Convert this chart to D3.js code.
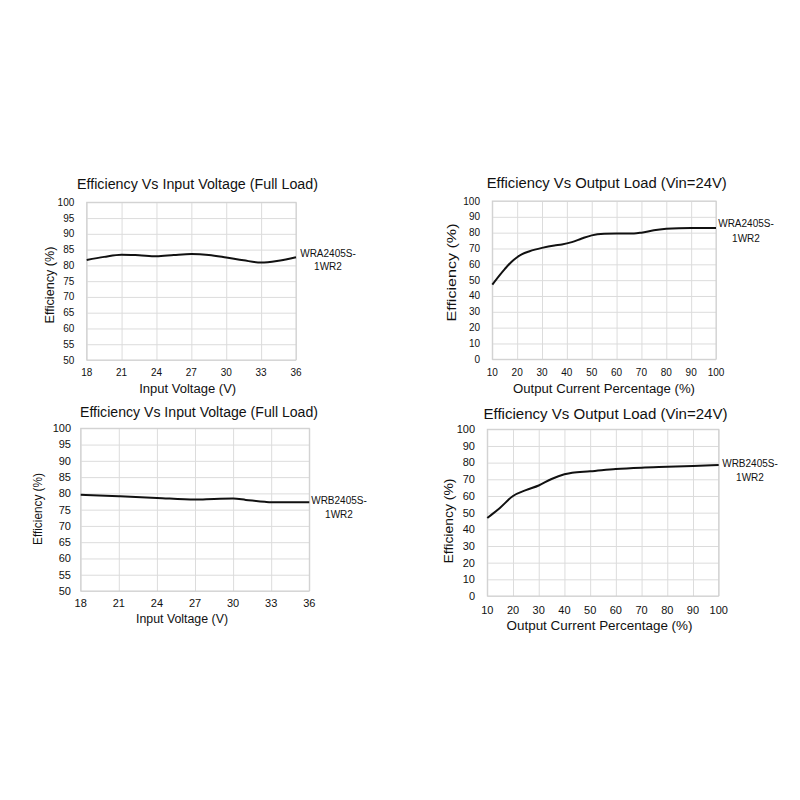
<!DOCTYPE html>
<html>
<head>
<meta charset="utf-8">
<script src="https://cdn.jsdelivr.net/npm/d3@7"></script>
<style>
  html, body { margin: 0; padding: 0; background: #fff; }
  svg { display: block; }
  text { font-family: "Liberation Sans", Arial, sans-serif; fill: #111; }
</style>
</head>
<body>
<svg id="chart" width="800" height="800"></svg>
<script>
// ---------- DATA ----------
const titles = [
  "Efficiency Vs Input Voltage (Full Load)",
  "Efficiency Vs Output Load (Vin=24V)",
  "Efficiency Vs Input Voltage (Full Load)",
  "Efficiency Vs Output Load (Vin=24V)"
];
const xLabels = ["Input Voltage (V)", "Output Current Percentage (%)", "Input Voltage (V)", "Output Current Percentage (%)"];
const yLabel = "Efficiency (%)";
const seriesNames = [["WRA2405S-", "1WR2"], ["WRA2405S-", "1WR2"], ["WRB2405S-", "1WR2"], ["WRB2405S-", "1WR2"]];

const voltageTicks = [18, 21, 24, 27, 30, 33, 36];
const voltageEffTicks = [50, 55, 60, 65, 70, 75, 80, 85, 90, 95, 100];
const loadTicks = [10, 20, 30, 40, 50, 60, 70, 80, 90, 100];
const loadEffTicks = [0, 10, 20, 30, 40, 50, 60, 70, 80, 90, 100];

// Chart 1: WRA2405S-1WR2, efficiency vs input voltage
const wraVoltage = [18, 19.5, 21, 22.5, 24, 25.5, 27, 28.5, 30, 31.5, 33, 34.5, 36];
const wraVoltageEff = [81.7, 82.7, 83.4, 83.2, 82.9, 83.3, 83.6, 83.3, 82.5, 81.6, 80.9, 81.5, 82.6];

// Chart 2: WRA2405S-1WR2, efficiency vs output load
const wraLoad = [10, 15, 18, 20, 22, 25, 30, 35, 38, 42, 46, 50, 55, 60, 67, 70, 75, 80, 85, 90, 100];
const wraLoadEff = [47.2, 57, 62, 64.5, 66.5, 68.3, 70.4, 71.9, 72.5, 74, 76.3, 78.3, 79.3, 79.5, 79.5, 80, 81.5, 82.4, 82.8, 82.9, 82.9];

// Chart 3: WRB2405S-1WR2, efficiency vs input voltage
const wrbVoltage = [18, 21, 24, 27, 28.5, 30, 31, 32.5, 33, 36];
const wrbVoltageEff = [79.6, 79.1, 78.6, 78.1, 78.3, 78.4, 78.0, 77.4, 77.3, 77.3];

// Chart 4: WRB2405S-1WR2, efficiency vs output load
const wrbLoad = [10, 15, 20, 25, 30, 35, 40, 43, 50, 60, 70, 80, 90, 100];
const wrbLoadEff = [46.8, 53, 60, 63.5, 66.3, 70.2, 73, 74, 74.8, 76.2, 77, 77.5, 78, 78.6];

// ---------- LAYOUT ----------
const layouts = [
  { l: 86.7, r: 296, t: 202.3, b: 360, xDom: [18, 36], yDom: [50, 100], xt: voltageTicks, yt: voltageEffTicks,
    xs: wraVoltage, ys: wraVoltageEff, fs: 10,
    title: { x: 197.5, y: 189, w: 241 }, xl: { x: 187.7, y: 393, w: 97 }, yl: { x: 54, y: 285, w: 77 },
    yTickX: 74.3, xTickY: 376, ser: { x: 328, y1: 257, y2: 270 } },
  { l: 492.3, r: 716, t: 201, b: 359.3, xDom: [10, 100], yDom: [0, 100], xt: loadTicks, yt: loadEffTicks,
    xs: wraLoad, ys: wraLoadEff, fs: 10,
    title: { x: 606.7, y: 187.5, w: 240 }, xl: { x: 604, y: 392.5, w: 182 }, yl: { x: 456, y: 272.5, w: 98 },
    yTickX: 480, xTickY: 375.5, ser: { x: 746, y1: 227, y2: 242 } },
  { l: 80.7, r: 309.3, t: 428.3, b: 591, xDom: [18, 36], yDom: [50, 100], xt: voltageTicks, yt: voltageEffTicks,
    xs: wrbVoltage, ys: wrbVoltageEff, fs: 11,
    title: { x: 199, y: 416.5, w: 238 }, xl: { x: 182, y: 622.5, w: 92 }, yl: { x: 42, y: 509, w: 72 },
    yTickX: 71, xTickY: 607, ser: { x: 339, y1: 504, y2: 518 } },
  { l: 487.3, r: 718.7, t: 429.3, b: 596, xDom: [10, 100], yDom: [0, 100], xt: loadTicks, yt: loadEffTicks,
    xs: wrbLoad, ys: wrbLoadEff, fs: 11,
    title: { x: 605.5, y: 419, w: 244 }, xl: { x: 599.5, y: 630, w: 186 }, yl: { x: 453, y: 521, w: 85 },
    yTickX: 475, xTickY: 613.5, ser: { x: 750, y1: 467, y2: 481 } }
];

const svg = d3.select("#chart");

layouts.forEach((c, i) => {
  const g = svg.append("g");
  const x = d3.scaleLinear().domain(c.xDom).range([c.l, c.r]);
  const y = d3.scaleLinear().domain(c.yDom).range([c.b, c.t]);

  // grid lines via axes
  g.append("g")
    .attr("transform", `translate(0,${c.b})`)
    .call(d3.axisBottom(x).tickValues(c.xt).tickSize(-(c.b - c.t)).tickFormat(""))
    .call(a => a.select(".domain").remove())
    .call(a => a.selectAll("line").attr("stroke", "#dcdcdc").attr("stroke-width", 1));
  g.append("g")
    .attr("transform", `translate(${c.l},0)`)
    .call(d3.axisLeft(y).tickValues(c.yt).tickSize(-(c.r - c.l)).tickFormat(""))
    .call(a => a.select(".domain").remove())
    .call(a => a.selectAll("line").attr("stroke", "#dcdcdc").attr("stroke-width", 1));

  // frame
  g.append("rect")
    .attr("x", c.l).attr("y", c.t)
    .attr("width", c.r - c.l).attr("height", c.b - c.t)
    .attr("fill", "none").attr("stroke", "#cfcfcf").attr("stroke-width", 1);

  // tick labels
  g.append("g").selectAll("text").data(c.yt).join("text")
    .attr("x", c.yTickX).attr("y", d => y(d)).attr("dy", "0.35em")
    .attr("text-anchor", "end").attr("font-size", c.fs).text(d => d);
  g.append("g").selectAll("text").data(c.xt).join("text")
    .attr("x", d => x(d)).attr("y", c.xTickY)
    .attr("text-anchor", "middle").attr("font-size", c.fs).text(d => d);

  // line
  const pts = c.xs.map((v, k) => [v, c.ys[k]]);
  g.append("path")
    .datum(pts)
    .attr("fill", "none").attr("stroke", "#111").attr("stroke-width", 2)
    .attr("stroke-linejoin", "round")
    .attr("d", d3.line().x(d => x(d[0])).y(d => y(d[1])).curve(d3.curveMonotoneX));

  // title
  g.append("text")
    .attr("x", c.title.x).attr("y", c.title.y)
    .attr("text-anchor", "middle").attr("font-size", 14)
    .attr("textLength", c.title.w).attr("lengthAdjust", "spacingAndGlyphs")
    .text(titles[i]);

  // x axis label
  g.append("text")
    .attr("x", c.xl.x).attr("y", c.xl.y)
    .attr("text-anchor", "middle").attr("font-size", 12)
    .attr("textLength", c.xl.w).attr("lengthAdjust", "spacingAndGlyphs")
    .text(xLabels[i]);

  // y axis label
  g.append("text")
    .attr("transform", `translate(${c.yl.x},${c.yl.y}) rotate(-90)`)
    .attr("text-anchor", "middle").attr("font-size", 12)
    .attr("textLength", c.yl.w).attr("lengthAdjust", "spacingAndGlyphs")
    .text(yLabel);

  // series label
  g.append("text")
    .attr("x", c.ser.x).attr("y", c.ser.y1)
    .attr("text-anchor", "middle").attr("font-size", 10)
    .text(seriesNames[i][0]);
  g.append("text")
    .attr("x", c.ser.x).attr("y", c.ser.y2)
    .attr("text-anchor", "middle").attr("font-size", 10)
    .text(seriesNames[i][1]);
});
</script>
</body>
</html>
